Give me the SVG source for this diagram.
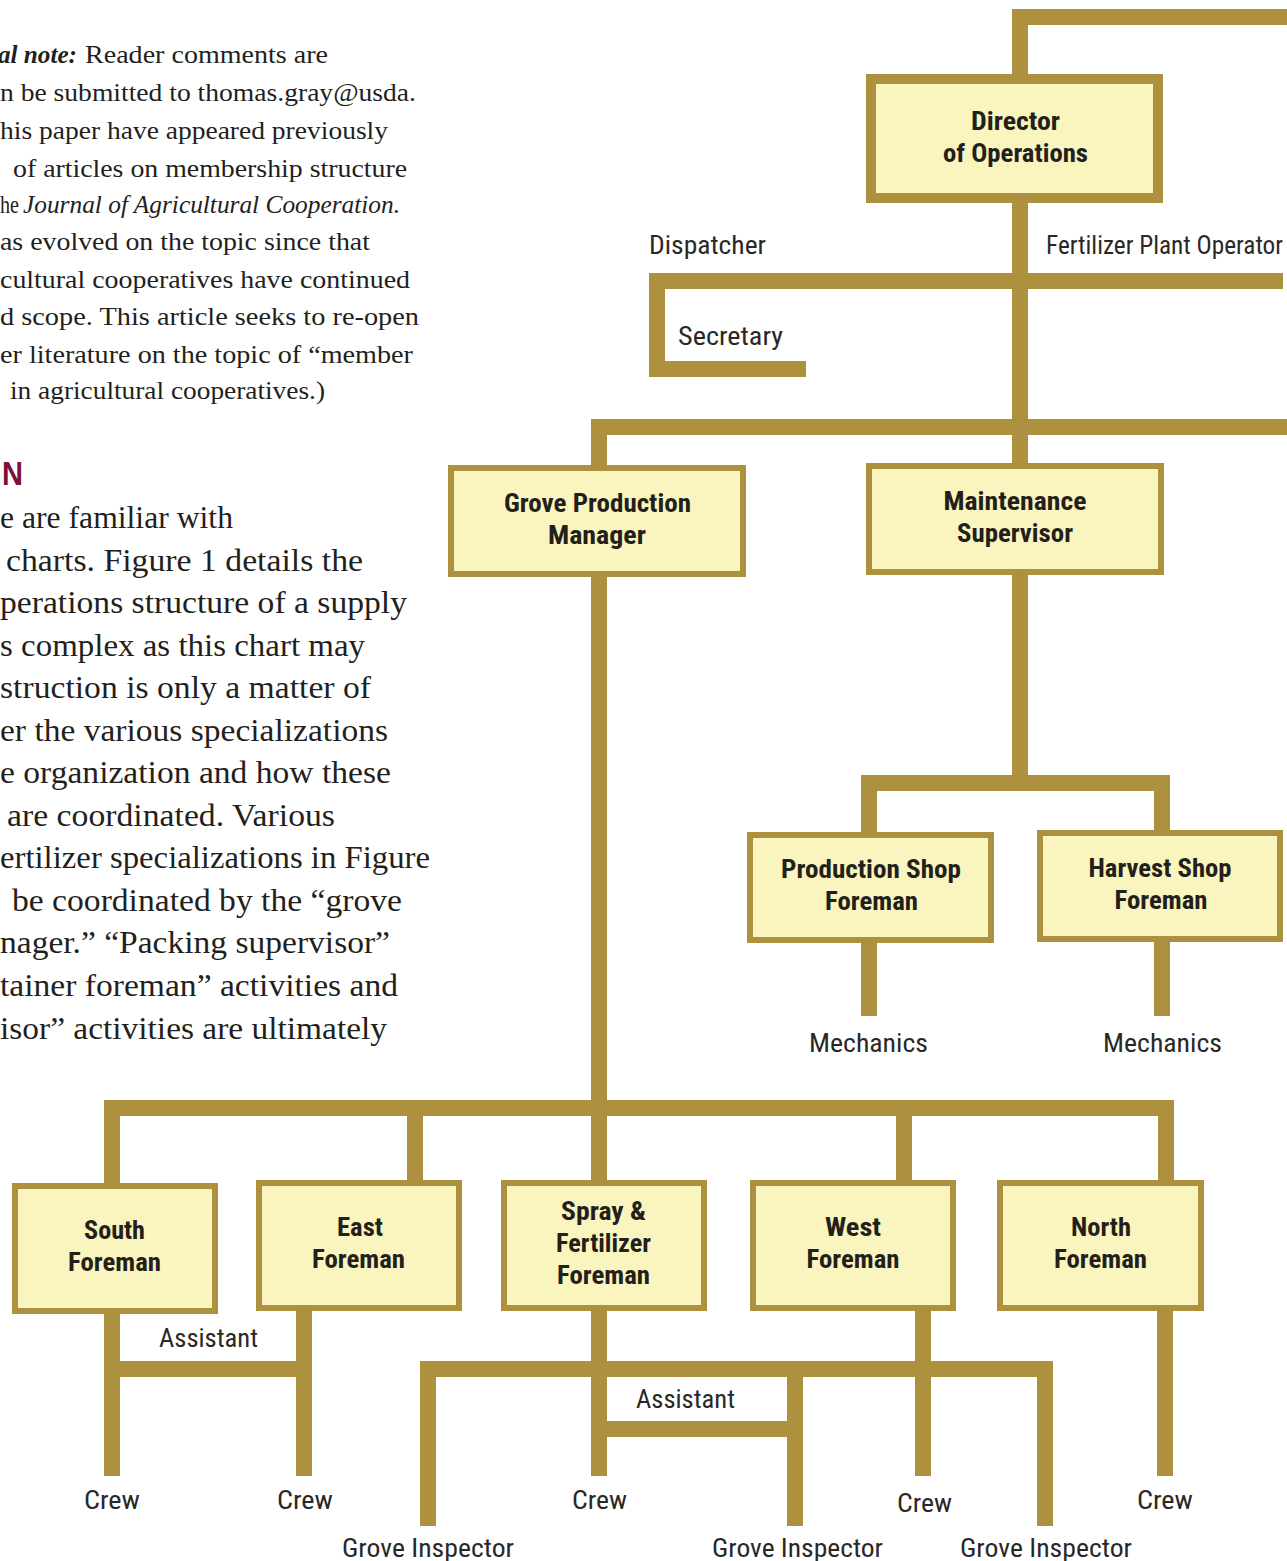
<svg xmlns="http://www.w3.org/2000/svg" width="1287" height="1561" viewBox="0 0 1287 1561">
  <style>
    .ln { fill: none; stroke: #AD913E; stroke-width: 16; stroke-linejoin: miter; stroke-linecap: butt; }
    .box { fill: #FAF4BE; stroke: #AD913E; stroke-width: 6; }
    .box.top { stroke-width: 10; }
    .t { font-family: "Liberation Sans Narrow", "Roboto Condensed", "DejaVu Sans Condensed", "Liberation Sans", sans-serif; font-weight: bold; font-size: 25px; fill: #231F1A; text-anchor: middle; }
    .lb { font-family: "Liberation Sans Narrow", "Roboto Condensed", "DejaVu Sans Condensed", "Liberation Sans", sans-serif; font-size: 26px; fill: #2A2826; }
    .body { font-family: "Liberation Serif", "DejaVu Serif", serif; fill: #231F20; }
    .p1 { font-size: 25px; }
    .p2 { font-size: 31px; }
    .head { font-family: "Liberation Sans", Arial, sans-serif; font-weight: bold; font-size: 33px; fill: #7D1039; }
  </style>

  <!-- article text column -->
  <g id="article-text" class="body">
    <text class="p1" x="-2" y="63" font-weight="bold" font-style="italic" textLength="79" lengthAdjust="spacingAndGlyphs">al note:</text>
    <text class="p1" x="85" y="63" textLength="243" lengthAdjust="spacingAndGlyphs">Reader comments are</text>
    <text class="p1" x="0" y="101" textLength="416" lengthAdjust="spacingAndGlyphs">n be submitted to thomas.gray@usda.</text>
    <text class="p1" x="0" y="139" textLength="388" lengthAdjust="spacingAndGlyphs">his paper have appeared previously</text>
    <text class="p1" x="13" y="177" textLength="394" lengthAdjust="spacingAndGlyphs">of articles on membership structure</text>
    <text class="p1" x="0" y="213" textLength="19" lengthAdjust="spacingAndGlyphs">he</text>
    <text class="p1" x="23" y="213" font-style="italic" textLength="377" lengthAdjust="spacingAndGlyphs">Journal of Agricultural Cooperation.</text>
    <text class="p1" x="0" y="250" textLength="370" lengthAdjust="spacingAndGlyphs">as evolved on the topic since that</text>
    <text class="p1" x="0" y="288" textLength="410" lengthAdjust="spacingAndGlyphs">cultural cooperatives have continued</text>
    <text class="p1" x="0" y="325" textLength="419" lengthAdjust="spacingAndGlyphs">d scope. This article seeks to re-open</text>
    <text class="p1" x="0" y="363" textLength="413" lengthAdjust="spacingAndGlyphs">er literature on the topic of “member</text>
    <text class="p1" x="10" y="399" textLength="315" lengthAdjust="spacingAndGlyphs">in agricultural cooperatives.)</text>

    <text class="head" x="2" y="485" textLength="21" lengthAdjust="spacingAndGlyphs">N</text>

    <text class="p2" x="0" y="528" textLength="233" lengthAdjust="spacingAndGlyphs">e are familiar with</text>
    <text class="p2" x="6" y="571" textLength="357" lengthAdjust="spacingAndGlyphs">charts. Figure 1 details the</text>
    <text class="p2" x="0" y="613" textLength="407" lengthAdjust="spacingAndGlyphs">perations structure of a supply</text>
    <text class="p2" x="0" y="656" textLength="365" lengthAdjust="spacingAndGlyphs">s complex as this chart may</text>
    <text class="p2" x="0" y="698" textLength="371" lengthAdjust="spacingAndGlyphs">struction is only a matter of</text>
    <text class="p2" x="0" y="741" textLength="388" lengthAdjust="spacingAndGlyphs">er the various specializations</text>
    <text class="p2" x="0" y="783" textLength="391" lengthAdjust="spacingAndGlyphs">e organization and how these</text>
    <text class="p2" x="7" y="826" textLength="328" lengthAdjust="spacingAndGlyphs">are coordinated. Various</text>
    <text class="p2" x="0" y="868" textLength="430" lengthAdjust="spacingAndGlyphs">ertilizer specializations in Figure</text>
    <text class="p2" x="12" y="911" textLength="390" lengthAdjust="spacingAndGlyphs">be coordinated by the “grove</text>
    <text class="p2" x="0" y="953" textLength="390" lengthAdjust="spacingAndGlyphs">nager.” “Packing supervisor”</text>
    <text class="p2" x="0" y="996" textLength="398" lengthAdjust="spacingAndGlyphs">tainer foreman” activities and</text>
    <text class="p2" x="0" y="1039" textLength="387" lengthAdjust="spacingAndGlyphs">isor” activities are ultimately</text>
  </g>

  <!-- reporting lines -->
  <g id="connectors">
    <path class="ln" d="M1287,17 H1020 V80"/>
    <path class="ln" d="M1020,198 V468"/>
    <path class="ln" d="M1283,281 H657 V369 H806"/>
    <path class="ln" d="M1287,427 H599 V468"/>
    <path class="ln" d="M599,574 V1183"/>
    <path class="ln" d="M112,1186 V1108 H1166 V1183"/>
    <path class="ln" d="M415,1108 V1183"/>
    <path class="ln" d="M904,1108 V1183"/>
    <path class="ln" d="M1020,572 V783"/>
    <path class="ln" d="M869,835 V783 H1162 V833"/>
    <path class="ln" d="M869,940 V1016"/>
    <path class="ln" d="M1162,939 V1016"/>
    <path class="ln" d="M112,1311 V1476"/>
    <path class="ln" d="M304,1308 V1476"/>
    <path class="ln" d="M112,1369 H304"/>
    <path class="ln" d="M599,1308 V1476"/>
    <path class="ln" d="M428,1526 V1369 H1045 V1526"/>
    <path class="ln" d="M795,1369 V1526"/>
    <path class="ln" d="M599,1429 H795"/>
    <path class="ln" d="M923,1308 V1476"/>
    <path class="ln" d="M1165,1308 V1476"/>
  </g>

  <!-- chart boxes -->
  <g id="director-of-operations">
    <rect class="box top" x="871" y="79" width="287" height="119"/>
    <text class="t" x="1015.5" y="130" textLength="89" lengthAdjust="spacingAndGlyphs">Director</text>
    <text class="t" x="1015.5" y="162" textLength="145" lengthAdjust="spacingAndGlyphs">of Operations</text>
  </g>
  <g id="grove-production-manager">
    <rect class="box" x="451" y="468" width="292" height="106"/>
    <text class="t" x="597.5" y="512" textLength="187" lengthAdjust="spacingAndGlyphs">Grove Production</text>
    <text class="t" x="597" y="544" textLength="98" lengthAdjust="spacingAndGlyphs">Manager</text>
  </g>
  <g id="maintenance-supervisor">
    <rect class="box" x="869" y="466" width="292" height="106"/>
    <text class="t" x="1015" y="510" textLength="143" lengthAdjust="spacingAndGlyphs">Maintenance</text>
    <text class="t" x="1015" y="542" textLength="116" lengthAdjust="spacingAndGlyphs">Supervisor</text>
  </g>
  <g id="production-shop-foreman">
    <rect class="box" x="750" y="835" width="241" height="105"/>
    <text class="t" x="871" y="878" textLength="180" lengthAdjust="spacingAndGlyphs">Production Shop</text>
    <text class="t" x="871.5" y="910" textLength="93" lengthAdjust="spacingAndGlyphs">Foreman</text>
  </g>
  <g id="harvest-shop-foreman">
    <rect class="box" x="1040" y="833" width="240" height="106"/>
    <text class="t" x="1160" y="877" textLength="143" lengthAdjust="spacingAndGlyphs">Harvest Shop</text>
    <text class="t" x="1161" y="909" textLength="93" lengthAdjust="spacingAndGlyphs">Foreman</text>
  </g>
  <g id="south-foreman">
    <rect class="box" x="15" y="1186" width="200" height="125"/>
    <text class="t" x="114.5" y="1239" textLength="61" lengthAdjust="spacingAndGlyphs">South</text>
    <text class="t" x="114.5" y="1271" textLength="93" lengthAdjust="spacingAndGlyphs">Foreman</text>
  </g>
  <g id="east-foreman">
    <rect class="box" x="259" y="1183" width="200" height="125"/>
    <text class="t" x="360" y="1236" textLength="46" lengthAdjust="spacingAndGlyphs">East</text>
    <text class="t" x="358.5" y="1268" textLength="93" lengthAdjust="spacingAndGlyphs">Foreman</text>
  </g>
  <g id="spray-fertilizer-foreman">
    <rect class="box" x="504" y="1183" width="200" height="125"/>
    <text class="t" x="603.5" y="1220" textLength="85" lengthAdjust="spacingAndGlyphs">Spray &amp;</text>
    <text class="t" x="603.5" y="1252" textLength="95" lengthAdjust="spacingAndGlyphs">Fertilizer</text>
    <text class="t" x="603.5" y="1284" textLength="93" lengthAdjust="spacingAndGlyphs">Foreman</text>
  </g>
  <g id="west-foreman">
    <rect class="box" x="753" y="1183" width="200" height="125"/>
    <text class="t" x="853" y="1236" textLength="56" lengthAdjust="spacingAndGlyphs">West</text>
    <text class="t" x="853" y="1268" textLength="93" lengthAdjust="spacingAndGlyphs">Foreman</text>
  </g>
  <g id="north-foreman">
    <rect class="box" x="1000" y="1183" width="201" height="125"/>
    <text class="t" x="1101" y="1236" textLength="60" lengthAdjust="spacingAndGlyphs">North</text>
    <text class="t" x="1100.5" y="1268" textLength="93" lengthAdjust="spacingAndGlyphs">Foreman</text>
  </g>

  <!-- staff positions without boxes -->
  <g id="dispatcher"><text class="lb" x="649" y="254" textLength="117" lengthAdjust="spacingAndGlyphs">Dispatcher</text></g>
  <g id="fertilizer-plant-operator"><text class="lb" x="1046" y="254" textLength="237" lengthAdjust="spacingAndGlyphs">Fertilizer Plant Operator</text></g>
  <g id="secretary"><text class="lb" x="678" y="345" textLength="105" lengthAdjust="spacingAndGlyphs">Secretary</text></g>
  <g id="mechanics-production"><text class="lb" x="809" y="1052" textLength="119" lengthAdjust="spacingAndGlyphs">Mechanics</text></g>
  <g id="mechanics-harvest"><text class="lb" x="1103" y="1052" textLength="119" lengthAdjust="spacingAndGlyphs">Mechanics</text></g>
  <g id="assistant-south-east"><text class="lb" x="159" y="1347" textLength="99" lengthAdjust="spacingAndGlyphs">Assistant</text></g>
  <g id="assistant-spray"><text class="lb" x="636" y="1408" textLength="99" lengthAdjust="spacingAndGlyphs">Assistant</text></g>
  <g id="crew-south"><text class="lb" x="84" y="1509" textLength="56" lengthAdjust="spacingAndGlyphs">Crew</text></g>
  <g id="crew-east"><text class="lb" x="277" y="1509" textLength="56" lengthAdjust="spacingAndGlyphs">Crew</text></g>
  <g id="crew-spray"><text class="lb" x="572" y="1509" textLength="55" lengthAdjust="spacingAndGlyphs">Crew</text></g>
  <g id="crew-west"><text class="lb" x="897" y="1512" textLength="55" lengthAdjust="spacingAndGlyphs">Crew</text></g>
  <g id="crew-north"><text class="lb" x="1137" y="1509" textLength="56" lengthAdjust="spacingAndGlyphs">Crew</text></g>
  <g id="grove-inspector-1"><text class="lb" x="342" y="1557" textLength="172" lengthAdjust="spacingAndGlyphs">Grove Inspector</text></g>
  <g id="grove-inspector-2"><text class="lb" x="712" y="1557" textLength="171" lengthAdjust="spacingAndGlyphs">Grove Inspector</text></g>
  <g id="grove-inspector-3"><text class="lb" x="960" y="1557" textLength="172" lengthAdjust="spacingAndGlyphs">Grove Inspector</text></g>
</svg>
